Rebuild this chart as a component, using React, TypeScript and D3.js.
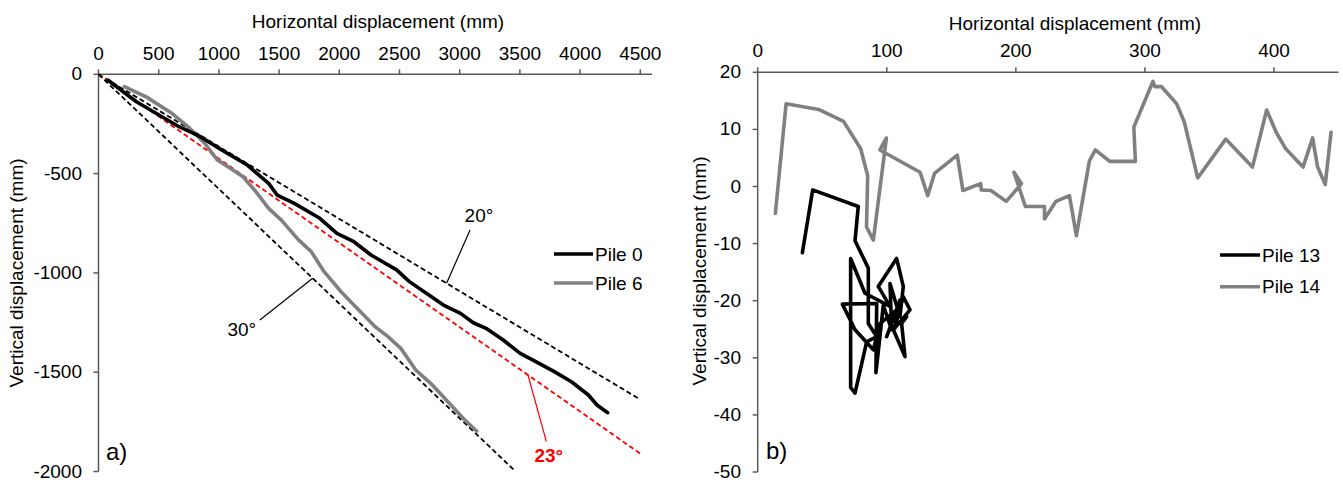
import React from "react";
import * as d3 from "d3";

// ---------- Panel a) data ----------
const leftXTicks = [0, 500, 1000, 1500, 2000, 2500, 3000, 3500, 4000, 4500];
const leftYTicks = [0, -500, -1000, -1500, -2000];

// Pile 0: [horizontal mm, vertical mm]
const pile0: [number, number][] = [
  [80, -30], [315, -138], [669, -264], [846, -314], [1023, -381], [1236, -457],
  [1413, -549], [1484, -608], [1626, -650], [1838, -725], [1980, -801],
  [2121, -843], [2263, -910], [2476, -985], [2582, -1044], [2723, -1103],
  [2865, -1162], [3007, -1204], [3113, -1251], [3219, -1279], [3361, -1338],
  [3502, -1405], [3609, -1439], [3786, -1497], [3928, -1548], [4069, -1615],
  [4140, -1665], [4229, -1704],
];
// Pile 6
const pile6: [number, number][] = [
  [215, -62], [400, -115], [599, -192], [740, -262], [882, -347], [988, -432],
  [1094, -473], [1200, -516], [1307, -591], [1413, -675], [1519, -734],
  [1661, -834], [1767, -893], [1874, -994], [2015, -1095], [2121, -1162],
  [2298, -1271], [2404, -1321], [2511, -1380], [2635, -1489], [2759, -1556],
  [2900, -1648], [3042, -1741], [3141, -1796],
];
// Reference angle lines (degrees below horizontal)
const angleDegrees = [20, 23, 30];
const angleColors = ["#000000", "#ff0000", "#000000"];
const angleLabels = ["20°", "23°", "30°"];
// label anchor (data units) and leader line endpoints (data units)
const angleLabelPos: [number, number][] = [[3160, -744], [3740, -1952], [1190, -1320]];
const angleLeaders: [number, number, number, number][] = [
  [3086, -784, 2891, -1052],
  [3567, -1514, 3720, -1850],
  [1340, -1237, 1779, -1027],
];

// ---------- Panel b) data ----------
const rightXTicks = [0, 100, 200, 300, 400];
const rightYTicks = [20, 10, 0, -10, -20, -30, -40, -50];

const pile13: [number, number][] = [
  [34.6, -11.6], [42.6, -0.6], [77.9, -3.5], [75.4, -9.5], [85.7, -14.3],
  [85.7, -24.0], [92.2, -26.3], [84.4, -27.2], [75.4, -36.2], [72.0, -35.2],
  [72.0, -12.6], [83.1, -18.7], [102.5, -21.0], [93.4, -17.5], [107.6, -12.6],
  [112.8, -17.5], [110.2, -22.8], [102.5, -17.0], [103.8, -25.1], [97.3, -20.8],
  [94.7, -26.3], [91.6, -32.6], [92.2, -20.5], [65.6, -20.6], [75.4, -25.1],
  [89.6, -28.6], [94.7, -24.0], [107.6, -21.6], [99.9, -26.3], [110.2, -19.9],
  [106.4, -24.5], [112.8, -19.3], [118.0, -21.6], [105.1, -25.1], [114.1, -29.8],
  [111.5, -24.0], [115.4, -22.8],
];
const pile14: [number, number][] = [
  [13.7, -4.7], [22.0, 14.5], [47.2, 13.5], [66.5, 11.4], [79.8, 6.6],
  [85.2, 1.9], [84.3, -7.1], [89.6, -9.4], [99.7, 8.5], [94.7, 6.4],
  [125.8, 2.5], [131.7, -1.6], [137.0, 2.3], [154.6, 5.5], [159.0, -0.7],
  [172.7, 0.5], [173.3, -0.6], [180.7, -0.7], [192.6, -2.6], [204.4, 0.5],
  [198.5, 2.5], [207.4, -3.5], [222.2, -3.5], [222.2, -5.7], [231.1, -2.6],
  [241.5, -1.6], [246.9, -8.6], [257.0, 4.5], [261.6, 6.4], [272.7, 4.4],
  [292.6, 4.4], [291.4, 10.4], [306.2, 18.4], [307.7, 17.5], [312.7, 17.5],
  [324.6, 14.5], [330.5, 11.3], [340.9, 1.5], [362.6, 8.3], [383.3, 3.4],
  [394.3, 13.4], [401.7, 9.5], [409.1, 6.6], [422.5, 3.4], [429.9, 8.5],
  [433.8, 3.4], [439.7, 0.35], [444.2, 9.5],
];

const FONT = "'Liberation Sans', Arial, Helvetica, sans-serif";
const AXIS = "#595959";

export default function App() {
  // Panel a scales
  const lx = d3.scaleLinear().domain([0, 4500]).range([98.5, 640.3]);
  const ly = d3.scaleLinear().domain([0, -2000]).range([74.3, 471.5]);
  const lxEnd = 652;
  // Panel b scales
  const rx = d3.scaleLinear().domain([0, 400]).range([757.7, 1274]);
  const ry = d3.scaleLinear().domain([20, -50]).range([72.3, 472]);
  const rxEnd = 1338.5;

  const lineL = d3.line<[number, number]>().x((d) => lx(d[0])).y((d) => ly(d[1]));
  const lineR = d3.line<[number, number]>().x((d) => rx(d[0])).y((d) => ry(d[1]));

  const angleSegs = angleDegrees.map((deg) => {
    const t = Math.tan((deg * Math.PI) / 180);
    const xe = Math.min(4500, 2000 / t);
    return [[0, 0], [xe, -xe * t]] as [number, number][];
  });

  return (
    <svg
      width={1343}
      height={480}
      style={{ position: "absolute", left: 0, top: 0, background: "#fff" }}
      fontFamily={FONT}
    >
      <rect x={0} y={0} width={1343} height={480} fill="#fff" />

      {/* ===== Panel a ===== */}
      <g>
        <line x1={lx(0)} x2={lxEnd} y1={ly(0)} y2={ly(0)} stroke={AXIS} strokeWidth={1.5} />
        <line x1={lx(0)} x2={lx(0)} y1={ly(0)} y2={ly(-2000)} stroke={AXIS} strokeWidth={1.5} />
        {leftXTicks.map((t) => (
          <g key={"lxt" + t}>
            <line x1={lx(t)} x2={lx(t)} y1={ly(0) - 5} y2={ly(0)} stroke={AXIS} strokeWidth={1.5} />
            <text x={lx(t)} y={ly(0) - 14} textAnchor="middle" fontSize={19} fill="#000">
              {t}
            </text>
          </g>
        ))}
        {leftYTicks.map((t) => (
          <g key={"lyt" + t}>
            <line x1={lx(0) - 5} x2={lx(0)} y1={ly(t)} y2={ly(t)} stroke={AXIS} strokeWidth={1.5} />
            <text x={82} y={ly(t) + 6} textAnchor="end" fontSize={19} fill="#000">
              {t}
            </text>
          </g>
        ))}
        <text x={378} y={28} textAnchor="middle" fontSize={19} fill="#000">
          Horizontal displacement (mm)
        </text>
        <text
          transform={`translate(23,${273}) rotate(-90)`}
          textAnchor="middle"
          fontSize={19}
          fill="#000"
        >
          Vertical displacement (mm)
        </text>

        {angleSegs.map((seg, i) => (
          <path
            key={"ang" + i}
            d={lineL(seg) || ""}
            fill="none"
            stroke={angleColors[i]}
            strokeWidth={1.8}
            strokeDasharray="5,3"
          />
        ))}

        <path d={lineL(pile6) || ""} fill="none" stroke="#808080" strokeWidth={3.6} strokeLinejoin="round" strokeLinecap="round" />
        <path d={lineL(pile0) || ""} fill="none" stroke="#000" strokeWidth={3.6} strokeLinejoin="round" strokeLinecap="round" />

        {angleLeaders.map((l, i) => (
          <line
            key={"ld" + i}
            x1={lx(l[0])}
            y1={ly(l[1])}
            x2={lx(l[2])}
            y2={ly(l[3])}
            stroke={angleColors[i]}
            strokeWidth={1.2}
          />
        ))}
        {angleLabelPos.map((p, i) => (
          <text
            key={"al" + i}
            x={lx(p[0])}
            y={ly(p[1])}
            textAnchor="middle"
            fontSize={19}
            fontWeight={i === 1 ? "bold" : "normal"}
            fill={angleColors[i]}
          >
            {angleLabels[i]}
          </text>
        ))}

        <line x1={554} x2={593} y1={254} y2={254} stroke="#000" strokeWidth={3.6} />
        <text x={595} y={260.5} fontSize={19} fill="#000">Pile 0</text>
        <line x1={554} x2={593} y1={283} y2={283} stroke="#808080" strokeWidth={3.6} />
        <text x={595} y={289.5} fontSize={19} fill="#000">Pile 6</text>

        <text x={106} y={460} fontSize={24} fill="#000">a)</text>
      </g>

      {/* ===== Panel b ===== */}
      <g>
        <line x1={rx(0)} x2={rxEnd} y1={ry(20)} y2={ry(20)} stroke={AXIS} strokeWidth={1.5} />
        <line x1={rx(0)} x2={rx(0)} y1={ry(20)} y2={ry(-50)} stroke={AXIS} strokeWidth={1.5} />
        {rightXTicks.map((t) => (
          <g key={"rxt" + t}>
            <line x1={rx(t)} x2={rx(t)} y1={ry(20) - 5} y2={ry(20)} stroke={AXIS} strokeWidth={1.5} />
            <text x={rx(t)} y={ry(20) - 15.5} textAnchor="middle" fontSize={19} fill="#000">
              {t}
            </text>
          </g>
        ))}
        {rightYTicks.map((t) => (
          <g key={"ryt" + t}>
            <line x1={rx(0) - 5} x2={rx(0)} y1={ry(t)} y2={ry(t)} stroke={AXIS} strokeWidth={1.5} />
            <text x={741} y={ry(t) + 6} textAnchor="end" fontSize={19} fill="#000">
              {t}
            </text>
          </g>
        ))}
        <text x={1075} y={30} textAnchor="middle" fontSize={19} fill="#000">
          Horizontal displacement (mm)
        </text>
        <text
          transform={`translate(706,${271}) rotate(-90)`}
          textAnchor="middle"
          fontSize={19}
          fill="#000"
        >
          Vertical displacement (mm)
        </text>

        <path d={lineR(pile14) || ""} fill="none" stroke="#808080" strokeWidth={3.6} strokeLinejoin="round" strokeLinecap="round" />
        <path d={lineR(pile13) || ""} fill="none" stroke="#000" strokeWidth={3.6} strokeLinejoin="round" strokeLinecap="round" />

        <line x1={1220} x2={1260} y1={255} y2={255} stroke="#000" strokeWidth={3.6} />
        <text x={1262} y={261.5} fontSize={19} fill="#000">Pile 13</text>
        <line x1={1220} x2={1260} y1={286.7} y2={286.7} stroke="#808080" strokeWidth={3.6} />
        <text x={1262} y={293.2} fontSize={19} fill="#000">Pile 14</text>

        <text x={766} y={459} fontSize={24} fill="#000">b)</text>
      </g>
    </svg>
  );
}
